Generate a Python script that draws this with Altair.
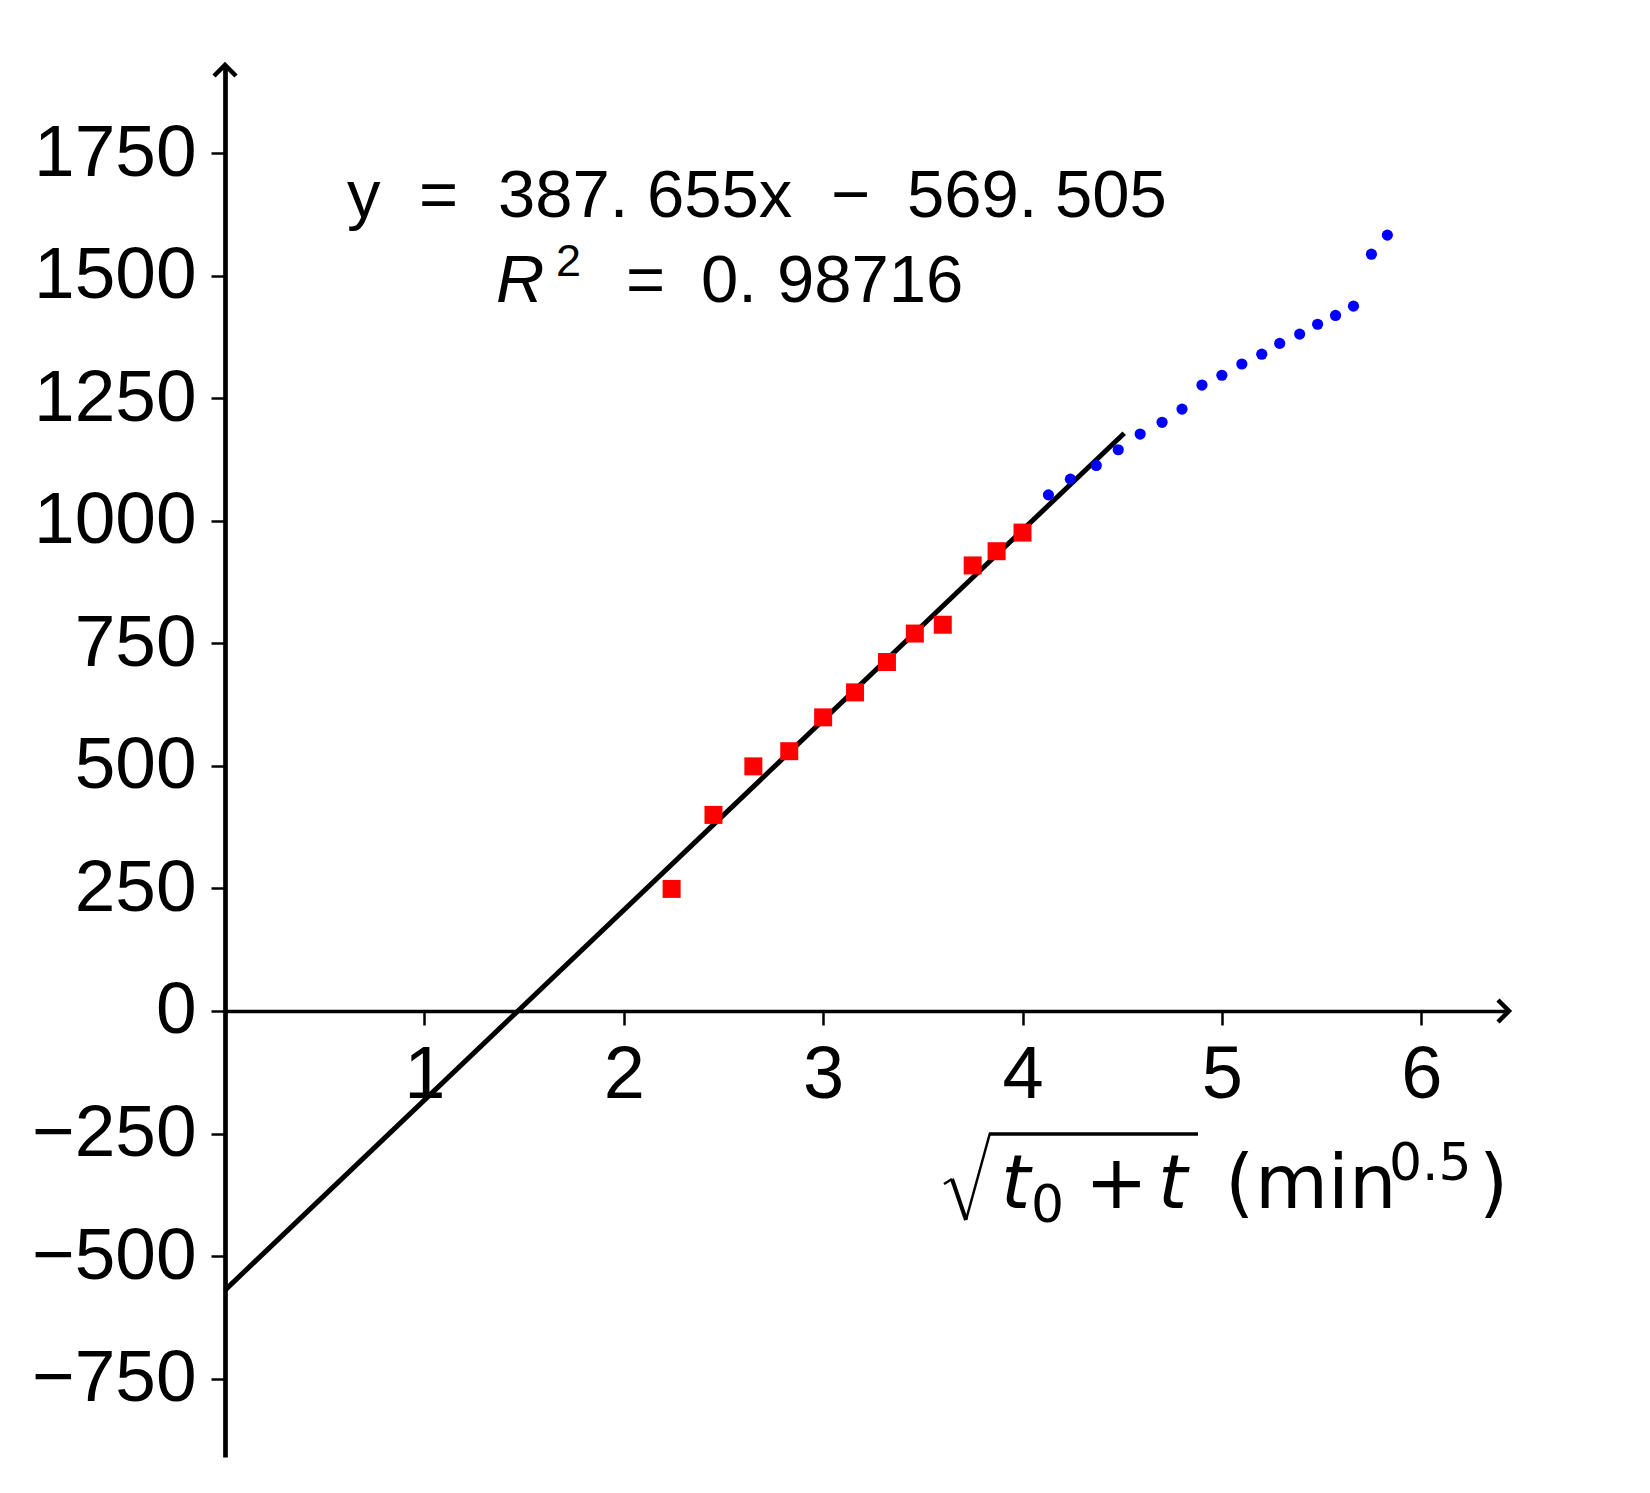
import altair as alt
import pandas as pd

# ---- data ----
red_x = [2.24, 2.45, 2.65, 2.83, 3.00, 3.16, 3.32, 3.46, 3.60, 3.75, 3.87, 4.00]
red_y = [249, 400, 499, 530, 599, 650, 712, 770, 788, 909, 938, 976]

blue_x = [4.13, 4.24, 4.37, 4.48, 4.59, 4.70, 4.80, 4.90, 5.00, 5.10, 5.20,
          5.29, 5.39, 5.48, 5.57, 5.66, 5.75, 5.83]
blue_y = [1053, 1085, 1113, 1145, 1177, 1201, 1228, 1277, 1297, 1320, 1340,
          1362, 1381, 1401, 1419, 1438, 1544, 1583]

fit_x = [0.0, 4.51]
fit_y = [-569.505, 1178.8]

x_ticks = [1, 2, 3, 4, 5, 6]
y_ticks = [-750, -500, -250, 0, 250, 500, 750, 1000, 1250, 1500, 1750]

X_DOMAIN = [0, 6.44]
Y_DOMAIN = [-910, 1930]

W, H = 1284, 1392
Y0_PIX = H * (Y_DOMAIN[1] - 0) / (Y_DOMAIN[1] - Y_DOMAIN[0])
X_AXIS_OFFSET = -(H - Y0_PIX)

SANS = "Liberation Sans"
DJV = "DejaVu Sans"

red_df = pd.DataFrame({"x": red_x, "y": red_y})
blue_df = pd.DataFrame({"x": blue_x, "y": blue_y})
fit_df = pd.DataFrame({"x": fit_x, "y": fit_y})

xs = alt.Scale(domain=X_DOMAIN, nice=False, zero=False)
ys = alt.Scale(domain=Y_DOMAIN, nice=False, zero=False)

x_axis = alt.Axis(values=x_ticks, offset=X_AXIS_OFFSET, domainWidth=3.5, domainColor="black",
                  tickWidth=2.5, tickColor="black", tickSize=14, labelFont=SANS,
                  labelFontSize=74, labelColor="black", labelPadding=15, grid=False,
                  title=None, labelFlush=False, labelOverlap=False, format="d")
y_axis = alt.Axis(values=y_ticks, domainWidth=4.7, domainColor="black",
                  tickWidth=2.5, tickColor="black", tickSize=14, labelFont=SANS,
                  labelFontSize=73, labelColor="black", labelPadding=15, grid=False,
                  title=None, labelFlush=False, labelOverlap=False, format="d")

fit = alt.Chart(fit_df).mark_line(color="black", strokeWidth=5).encode(
    x=alt.X("x:Q", scale=xs, axis=x_axis),
    y=alt.Y("y:Q", scale=ys, axis=y_axis),
)

red = alt.Chart(red_df).mark_square(color="#ff0000", size=324, opacity=1).encode(
    x=alt.X("x:Q", scale=xs), y=alt.Y("y:Q", scale=ys)
)
blue = alt.Chart(blue_df).mark_circle(color="#0000ff", size=125, opacity=1).encode(
    x=alt.X("x:Q", scale=xs), y=alt.Y("y:Q", scale=ys)
)

# axis arrow heads
arrow_r = alt.Chart(pd.DataFrame({"x": [X_DOMAIN[1]], "y": [0]})).mark_point(
    shape="M-1,-1L0,0L-1,1", filled=False, stroke="black", strokeWidth=4.5, size=484, opacity=1
).encode(x=alt.X("x:Q", scale=xs), y=alt.Y("y:Q", scale=ys))
arrow_u = alt.Chart(pd.DataFrame({"x": [0], "y": [Y_DOMAIN[1]]})).mark_point(
    shape="M-1,1L0,0L1,1", filled=False, stroke="black", strokeWidth=4.5, size=484, opacity=1
).encode(x=alt.X("x:Q", scale=xs), y=alt.Y("y:Q", scale=ys))

# annotation tokens: text, x, y(baseline), size, font, style
tokens = [
    ("y", 122, 152, 67, SANS, "normal"),
    ("=", 194, 152, 67, SANS, "normal"),
    ("387.", 273, 152, 67, SANS, "normal"),
    ("655x", 422, 152, 67, SANS, "normal"),
    ("\u2212", 606, 152, 67, SANS, "normal"),
    ("569.", 682, 152, 67, SANS, "normal"),
    ("505", 830, 152, 67, SANS, "normal"),
    ("R", 271, 237, 67, SANS, "italic"),
    ("2", 331, 211, 45, SANS, "normal"),
    ("=", 401, 237, 67, SANS, "normal"),
    ("0.", 476, 237, 67, SANS, "normal"),
    ("98716", 552, 237, 67, SANS, "normal"),
    ("t", 776, 1143, 75, DJV, "italic"),
    ("0", 806, 1157, 52, DJV, "normal"),
    ("+", 860, 1143, 75, DJV, "normal"),
    ("t", 933, 1143, 75, DJV, "italic"),
    ("(", 1000, 1143, 75, DJV, "normal"),
    ("min", 1030, 1143, 75, DJV, "normal"),
    ("0.5", 1164, 1115, 52, DJV, "normal"),
    (")", 1254, 1143, 75, DJV, "normal"),
]

layers = [fit, red, blue, arrow_r, arrow_u]
for t, px, py, sz, fnt, sty in tokens:
    layers.append(
        alt.Chart(pd.DataFrame({"t": [t]})).mark_text(
            align="left", baseline="alphabetic", fontSize=sz, font=fnt,
            fontStyle=sty, color="black"
        ).encode(x=alt.value(px), y=alt.value(py), text="t:N")
    )

# radical sign and overline of the square root (pixel segments)
segments = [
    (719, 1119, 727, 1114, 2.5),
    (727, 1114, 741, 1155, 4.0),
    (741, 1155, 765, 1068, 2.5),
    (764, 1069, 973, 1069, 3.5),
]
for x1, y1, x2, y2, sw in segments:
    layers.append(
        alt.Chart(pd.DataFrame({"a": [0]})).mark_rule(color="black", strokeWidth=sw).encode(
            x=alt.value(x1), x2=alt.value(x2), y=alt.value(y1), y2=alt.value(y2)
        )
    )

chart = alt.layer(*layers).properties(
    width=W, height=H,
    autosize=alt.AutoSizeParams(type="none"),
    padding={"left": 217, "top": 57, "right": 133, "bottom": 28},
    background="white",
).configure_view(stroke=None)

chart.save("out.html", embed_options={"renderer": "svg", "actions": False})
